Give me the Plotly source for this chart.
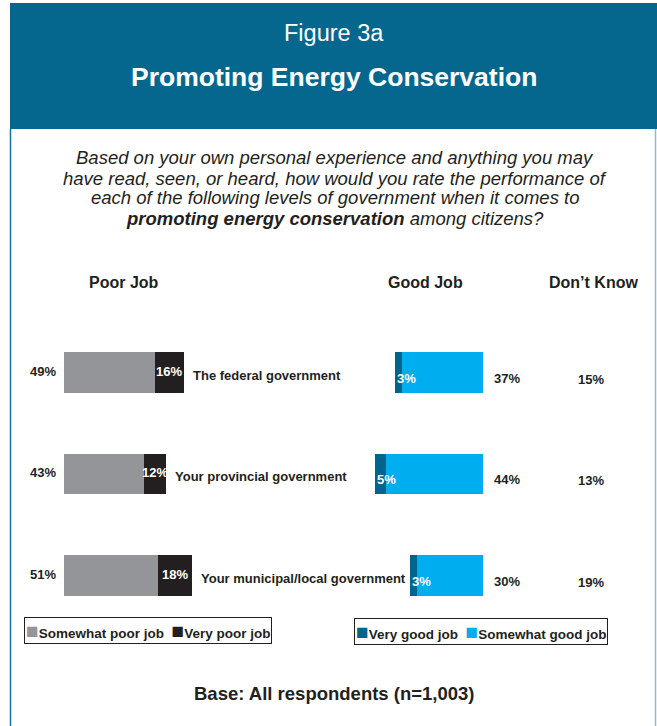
import plotly.graph_objects as go

# ---- data -------------------------------------------------------------
levels = ["The federal government", "Your provincial government", "Your municipal/local government"]
somewhat_poor = [49, 43, 51]
very_poor = [16, 12, 18]
very_good = [3, 5, 3]
somewhat_good = [37, 44, 30]
dont_know = [15, 13, 19]

col_somewhat_poor = "#939598"
col_very_poor = "#231f20"
col_very_good = "#00658c"
col_somewhat_good = "#00aeef"
col_header = "#05678e"
col_text = "#231f20"

FONT = "Arial, Liberation Sans, sans-serif"
W, H = 657, 726


def px(x):
    return x / W


def py(y):
    return 1 - y / H


fig = go.Figure()

# Poor-job bars (left block, stacked left to right)
fig.add_trace(go.Bar(y=levels, x=somewhat_poor, orientation="h", name="Somewhat poor job",
                     marker=dict(color=col_somewhat_poor, line=dict(width=0)),
                     xaxis="x", yaxis="y", width=0.40, hoverinfo="x+name"))
fig.add_trace(go.Bar(y=levels, x=very_poor, orientation="h", name="Very poor job",
                     marker=dict(color=col_very_poor, line=dict(width=0)),
                     xaxis="x", yaxis="y", width=0.40, hoverinfo="x+name"))

# Good-job bars (middle block, reversed axis so the bars share a right edge)
fig.add_trace(go.Bar(y=levels, x=somewhat_good, orientation="h", name="Somewhat good job",
                     marker=dict(color=col_somewhat_good, line=dict(width=0)),
                     xaxis="x2", yaxis="y", width=0.40, hoverinfo="x+name"))
fig.add_trace(go.Bar(y=levels, x=very_good, orientation="h", name="Very good job",
                     marker=dict(color=col_very_good, line=dict(width=0)),
                     xaxis="x2", yaxis="y", width=0.40, hoverinfo="x+name"))

ann = []
lbl = dict(family=FONT, size=13, color=col_text)
lbl_w = dict(family=FONT, size=13, color="white")

for i, lev in enumerate(levels):
    poor_total = somewhat_poor[i] + very_poor[i]
    good_total = very_good[i] + somewhat_good[i]
    # somewhat poor value, left of the bar
    ann.append(dict(xref="x", yref="y", x=0, y=lev, text=f"<b>{somewhat_poor[i]}%</b>",
                    xanchor="right", xshift=-6, yshift=1, showarrow=False, font=lbl))
    # very poor value, inside the dark segment
    ann.append(dict(xref="x", yref="y", x=somewhat_poor[i] + very_poor[i] / 2, y=lev,
                    text=f"<b>{very_poor[i]}%</b>", xanchor="center", yshift=1,
                    showarrow=False, font=lbl_w))
    # government level name after the poor bar
    ann.append(dict(xref="x", yref="y", x=poor_total, y=lev, text=f"<b>{lev}</b>",
                    xanchor="left", xshift=7, yshift=-3, showarrow=False, font=lbl))
    # very good value, white, at the left edge of the good bar
    ann.append(dict(xref="x2", yref="y", x=good_total, y=lev, text=f"<b>{very_good[i]}%</b>",
                    xanchor="left", xshift=0, yshift=-6, showarrow=False, font=lbl_w))
    # somewhat good value, right of the good bar
    ann.append(dict(xref="x2", yref="y", x=0, y=lev, text=f"<b>{somewhat_good[i]}%</b>",
                    xanchor="left", xshift=9, yshift=-6, showarrow=False, font=lbl))
    # don't know column
    ann.append(dict(xref="paper", yref="y", x=px(591), y=lev,
                    text=f"<b>{dont_know[i]}%</b>",
                    xanchor="center", yshift=-7, showarrow=False, font=lbl))

# Header texts
ann.append(dict(xref="paper", yref="paper", x=px(334), y=py(33), text="Figure 3a",
                showarrow=False, xanchor="center", yanchor="middle",
                font=dict(family=FONT, size=23.5, color="white")))
ann.append(dict(xref="paper", yref="paper", x=px(334), y=py(77),
                text="<b>Promoting Energy Conservation</b>",
                showarrow=False, xanchor="center", yanchor="middle",
                font=dict(family=FONT, size=26.5, color="white")))

# Question, one annotation per line for tight line spacing
question_lines = [
    "<i>Based on your own personal experience and anything you may</i>",
    "<i>have read, seen, or heard, how would you rate the performance of</i>",
    "<i>each of the following levels of government when it comes to</i>",
    "<i><b>promoting energy conservation</b> among citizens?</i>",
]
for k, line in enumerate(question_lines):
    ann.append(dict(xref="paper", yref="paper", x=px(335), y=py(158 + 20 * k), text=line,
                    showarrow=False, xanchor="center", yanchor="middle",
                    font=dict(family=FONT, size=18.5, color=col_text)))

# Column headings
for txt, xc in [("Poor Job", 124), ("Good Job", 425), ("Don\u2019t Know", 593)]:
    ann.append(dict(xref="paper", yref="paper", x=px(xc), y=py(282), text=f"<b>{txt}</b>",
                    showarrow=False, xanchor="center", yanchor="middle",
                    font=dict(family=FONT, size=16, color=col_text)))

# Legends
def sq(c):
    return f'<span style="color:{c};font-size:21px">\u25a0</span>'

ann.append(dict(xref="paper", yref="paper", x=px(24), y=py(630),
                text=f"{sq(col_somewhat_poor)}<b>Somewhat poor job</b>  {sq(col_very_poor)}<b>Very poor job</b>",
                showarrow=False, xanchor="left", yanchor="middle",
                bordercolor=col_text, borderwidth=1, borderpad=1, bgcolor="white",
                font=dict(family=FONT, size=13.5, color=col_text)))
ann.append(dict(xref="paper", yref="paper", x=px(354), y=py(631),
                text=f"{sq(col_very_good)}<b>Very good job</b>  {sq(col_somewhat_good)}<b>Somewhat good job</b>",
                showarrow=False, xanchor="left", yanchor="middle",
                bordercolor=col_text, borderwidth=1, borderpad=1, bgcolor="white",
                font=dict(family=FONT, size=13.5, color=col_text)))

# Base note
ann.append(dict(xref="paper", yref="paper", x=px(334), y=py(693),
                text="<b>Base: All respondents (n=1,003)</b>",
                showarrow=False, xanchor="center", yanchor="middle",
                font=dict(family=FONT, size=18.5, color=col_text)))

shapes = [
    dict(type="rect", xref="paper", yref="paper", x0=px(10), x1=px(657), y0=py(129), y1=py(3),
         fillcolor=col_header, line=dict(width=0), layer="below"),
    dict(type="line", xref="paper", yref="paper", x0=px(10.5), x1=px(10.5), y0=py(129), y1=0,
         line=dict(color="#1b6f97", width=1.5)),
    dict(type="line", xref="paper", yref="paper", x0=px(655.5), x1=px(655.5), y0=py(129), y1=0,
         line=dict(color="#8dbcd3", width=1.5)),
]

fig.update_layout(
    width=W, height=H,
    margin=dict(l=0, r=0, t=0, b=0),
    paper_bgcolor="white", plot_bgcolor="white",
    barmode="stack",
    showlegend=False,
    xaxis=dict(domain=[px(64), px(249)], range=[0, 100], visible=False, fixedrange=True),
    xaxis2=dict(domain=[px(263), px(483)], range=[100, 0], visible=False, anchor="y",
                fixedrange=True),
    yaxis=dict(domain=[py(626.25), py(321.75)], range=[2.5, -0.5], visible=False,
               type="category", categoryorder="array", categoryarray=levels, fixedrange=True),
    annotations=ann,
    shapes=shapes,
)

fig.write_html("out.html")
